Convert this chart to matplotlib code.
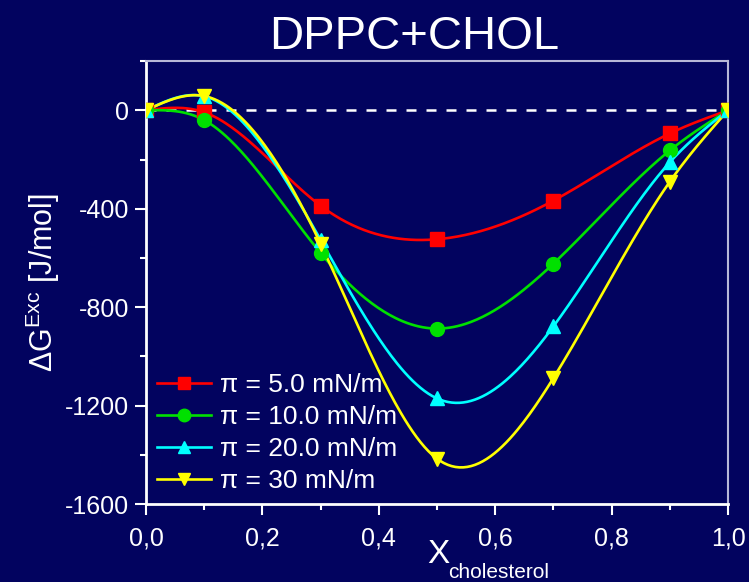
import matplotlib
matplotlib.use("Agg")
import matplotlib.pyplot as plt
import numpy as np
from matplotlib.ticker import MultipleLocator, FuncFormatter

plt.rcParams['font.family'] = ['Liberation Sans', 'DejaVu Sans']

# mole fraction of cholesterol
x_chol = [0.0, 0.1, 0.3, 0.5, 0.7, 0.9, 1.0]

# excess Gibbs energy (J/mol) at each surface pressure
g_5 = [0, -8, -388, -524, -367, -94, 0]
g_10 = [0, -40, -580, -887, -623, -163, 0]
g_20 = [0, 57, -527, -1171, -878, -211, 0]
g_30 = [0, 58, -543, -1416, -1088, -290, 0]

labels = ['π = 5.0 mN/m', 'π = 10.0 mN/m', 'π = 20.0 mN/m', 'π = 30 mN/m']
colors = ['#ff0000', '#00e000', '#00ffff', '#ffff00']
markers = ['s', 'o', '^', 'v']

BG = '#02035f'


def natural_spline(x, y, n=300):
    """Curva suave (spline cúbica natural) pelos pontos medidos."""
    x = np.asarray(x, float)
    y = np.asarray(y, float)
    k = len(x)
    h = np.diff(x)
    A = np.zeros((k, k))
    b = np.zeros(k)
    A[0, 0] = A[-1, -1] = 1
    for i in range(1, k - 1):
        A[i, i - 1] = h[i - 1]
        A[i, i] = 2 * (h[i - 1] + h[i])
        A[i, i + 1] = h[i]
        b[i] = 6 * ((y[i + 1] - y[i]) / h[i] - (y[i] - y[i - 1]) / h[i - 1])
    m = np.linalg.solve(A, b)
    xs = np.linspace(x[0], x[-1], n)
    idx = np.clip(np.searchsorted(x, xs) - 1, 0, k - 2)
    x0, x1 = x[idx], x[idx + 1]
    hh = x1 - x0
    t0, t1 = x1 - xs, xs - x0
    ys = (m[idx] * t0**3 + m[idx + 1] * t1**3) / (6 * hh) \
        + (y[idx] / hh - m[idx] * hh / 6) * t0 \
        + (y[idx + 1] / hh - m[idx + 1] * hh / 6) * t1
    return xs, ys


fig = plt.figure(figsize=(7.49, 5.82), dpi=100, facecolor=BG)
ax = fig.add_axes([0.195, 0.134, 0.777, 0.761], facecolor=BG)

ax.plot([0, 1], [0, 0], color='white', linestyle=(0, (4, 4)), linewidth=1.8, zorder=1)

for g, lab, c, mk in zip([g_5, g_10, g_20, g_30], labels, colors, markers):
    xs, ys = natural_spline(x_chol, g)
    ax.plot(xs, ys, color=c, linewidth=1.9, zorder=2)
    ax.plot(x_chol, g, linestyle='none', marker=mk, color=c, markersize=10, zorder=3)
    ax.plot([], [], color=c, marker=mk, markersize=9, linewidth=1.9, label=lab)

ax.set_xlim(0, 1.0)
ax.set_ylim(-1600, 200)
ax.xaxis.set_major_locator(MultipleLocator(0.2))
ax.xaxis.set_minor_locator(MultipleLocator(0.1))
ax.yaxis.set_major_locator(MultipleLocator(400))
ax.yaxis.set_minor_locator(MultipleLocator(200))
ax.xaxis.set_major_formatter(FuncFormatter(lambda v, p: f'{v:.1f}'.replace('.', ',')))
ax.yaxis.set_major_formatter(FuncFormatter(lambda v, p: f'{v:.0f}'))

ax.tick_params(which='major', direction='out', length=8, width=1.5, colors='white',
               labelsize=18, pad=4)
ax.tick_params(axis='x', which='major', pad=8)
ax.tick_params(which='minor', direction='out', length=4, width=1.5, colors='white')

for side in ['left', 'bottom']:
    ax.spines[side].set_color('white')
    ax.spines[side].set_linewidth(2)
for side in ['top', 'right']:
    ax.spines[side].set_color('#b8b8d8')
    ax.spines[side].set_linewidth(1.5)

ax.set_ylabel('ΔG$^{\\mathregular{Exc}}$ [J/mol]', color='white', fontsize=22, labelpad=2)

# X com subscrito, desenhado como dois textos
fig.text(427 / 749, 1 - 563 / 582, 'X', color='white', fontsize=24, ha='left', va='baseline')
fig.text(448 / 749, 1 - 578 / 582, 'cholesterol', color='white', fontsize=15,
         ha='left', va='baseline')

fig.text(0.553, 0.937, 'DPPC+CHOL', color='white', fontsize=34, ha='center', va='center')

leg = ax.legend(loc='lower left', bbox_to_anchor=(11 / 582, 11 / 443), frameon=False,
                fontsize=19, handlelength=2.05, handletextpad=0.35, labelspacing=0.3,
                borderaxespad=0, borderpad=0)
for t in leg.get_texts():
    t.set_color('white')

fig.savefig('out.png', dpi=100, facecolor=BG)
